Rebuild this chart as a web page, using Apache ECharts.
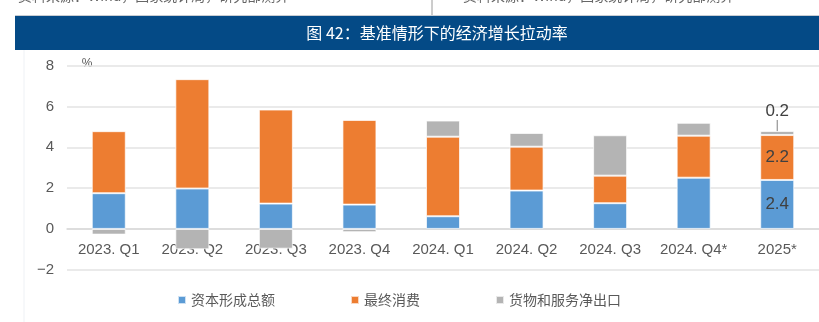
<!DOCTYPE html>
<html>
<head>
<meta charset="utf-8">
<script src="https://cdn.jsdelivr.net/npm/echarts@6/dist/echarts.min.js"></script>
<style>
  html, body { margin: 0; padding: 0; background: #fff; }
  #chart { width: 819px; height: 322px; }
</style>
</head>
<body>
<div id="chart"></div>
<script>
// Quarterly contributions to GDP growth (percentage points)
const categories = ['2023. Q1', '2023. Q2', '2023. Q3', '2023. Q4', '2024. Q1', '2024. Q2', '2024. Q3', '2024. Q4*', '2025*'];
const capitalFormation = [1.75, 1.98, 1.24, 1.19, 0.62, 1.88, 1.26, 2.51, 2.4];
const finalConsumption = [3.04, 5.36, 4.61, 4.15, 3.90, 2.15, 1.35, 2.06, 2.2];
const netExports = [-0.28, -1.0, -0.97, -0.16, 0.79, 0.67, 1.98, 0.63, 0.2];
const seriesNames = ['资本形成总额', '最终消费', '货物和服务净出口'];
const yTicks = { min: -2, max: 8, interval: 2 };
const labeledIndex = categories.length - 1;

const chart = echarts.init(document.getElementById('chart'), null, { renderer: 'canvas' });

const axisFont = '"Liberation Sans Narrow", "Liberation Sans", Arial, sans-serif';
const cjkFont = '"Noto Sans CJK SC", sans-serif';

function withLabel(values, labelCfg) {
  return values.map((v, i) => i === labeledIndex ? { value: v, label: labelCfg } : v);
}

const insideLabel = {
  show: true,
  position: 'inside',
  color: '#404040',
  fontSize: 17,
  fontFamily: axisFont,
  formatter: p => p.value.toFixed(1)
};

const topLabel = {
  show: true,
  position: 'top',
  distance: 5,
  color: '#404040',
  fontSize: 17,
  fontFamily: axisFont,
  formatter: p => p.value.toFixed(1)
};

const barStyle = (color) => ({ color: color, borderColor: 'rgba(255,255,255,0.7)', borderWidth: 1 });

chart.setOption({
  animation: false,
  backgroundColor: '#fff',
  graphic: [
    { type: 'text', left: 18, top: -11, style: { text: '资料来源：Wind，国家统计局，研究部测算', fill: '#666', font: '14px ' + cjkFont } },
    { type: 'text', left: 463, top: -11, style: { text: '资料来源：Wind，国家统计局，研究部测算', fill: '#666', font: '14px ' + cjkFont } },
    { type: 'line', shape: { x1: 432, y1: 0, x2: 432, y2: 15 }, style: { stroke: '#9a9a9a', lineWidth: 1 } },
    { type: 'rect', shape: { x: 15, y: 15, width: 804, height: 1 }, style: { fill: '#c8cdd3' } },
    { type: 'rect', shape: { x: 15, y: 16, width: 804, height: 34 }, style: { fill: '#044a86' } },
    { type: 'text', x: 437, y: 33, style: { text: '图 42：基准情形下的经济增长拉动率', fill: '#fff', font: '16px ' + cjkFont, textAlign: 'center', textVerticalAlign: 'middle' } },
    { type: 'line', shape: { x1: 24, y1: 50, x2: 24, y2: 322 }, style: { stroke: '#eef1f5', lineWidth: 1 } },
    { type: 'text', x: 87, y: 64, style: { text: '%', fill: '#595959', font: '12px ' + axisFont, textAlign: 'center', textVerticalAlign: 'middle' } }
  ],
  grid: { left: 67, top: 65.7, width: 763, height: 204, containLabel: false },
  legend: {
    left: 172,
    top: 288,
    icon: 'rect',
    itemWidth: 8,
    itemHeight: 8,
    itemGap: 75,
    textStyle: { color: '#595959', fontSize: 14, fontFamily: cjkFont },
    data: seriesNames
  },
  xAxis: {
    type: 'category',
    data: categories,
    axisLine: { onZero: true, lineStyle: { color: '#d9d9d9', width: 1.5 } },
    axisTick: { show: false },
    axisLabel: { color: '#595959', fontSize: 15, fontFamily: axisFont, margin: -27, interval: 0 }
  },
  yAxis: {
    type: 'value',
    min: yTicks.min,
    max: yTicks.max,
    interval: yTicks.interval,
    axisLine: { show: false },
    axisTick: { show: false },
    axisLabel: {
      color: '#595959', fontSize: 15, fontFamily: axisFont, margin: 13,
      formatter: v => String(v).replace('-', '\u2212')
    },
    splitLine: { lineStyle: { color: '#e3e3e3', width: 1.5 } }
  },
  series: [
    {
      name: seriesNames[0], type: 'bar', stack: 'total', barWidth: 34,
      itemStyle: barStyle('#5b9bd5'),
      data: withLabel(capitalFormation, insideLabel)
    },
    {
      name: seriesNames[1], type: 'bar', stack: 'total', barWidth: 34,
      itemStyle: barStyle('#ed7d31'),
      data: withLabel(finalConsumption, insideLabel)
    },
    {
      name: seriesNames[2], type: 'bar', stack: 'total', barWidth: 34,
      itemStyle: barStyle('#b4b4b4'),
      data: withLabel(netExports, topLabel),
      labelLayout: p => p.dataIndex === labeledIndex ? { dy: -6 } : {},
      labelLine: { show: true, lineStyle: { color: '#7f7f7f', width: 1 } }
    }
  ]
});
</script>
</body>
</html>
